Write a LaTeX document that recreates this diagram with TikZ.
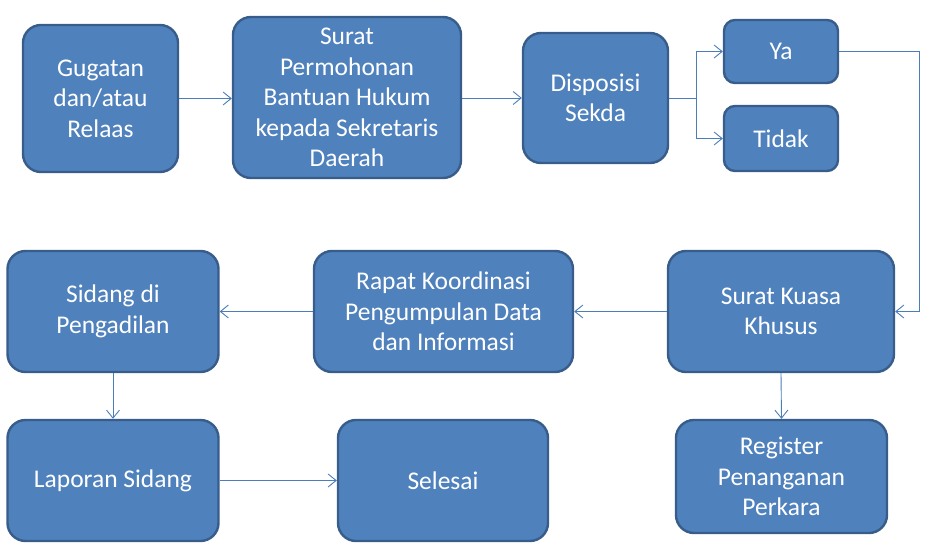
\documentclass[tikz,border=0pt]{standalone}
\usepackage{fontspec}
\setmainfont{Carlito}
\usetikzlibrary{arrows.meta}
\definecolor{boxfill}{HTML}{4F81BD}
\definecolor{boxline}{HTML}{385D8A}
\definecolor{arrowcol}{HTML}{4A7EBB}
\begin{document}
\begin{tikzpicture}[x=1pt,y=-1pt,
  stepbox/.style={rectangle, rounded corners=18pt, fill=boxfill, draw=boxline, line width=2.4pt,
    text=white, align=center, inner sep=0pt, font=\fontsize{25.5}{30.5}\selectfont},
  smallbox/.style={stepbox, rounded corners=11pt},
  conn/.style={draw=arrowcol, line width=0.9pt, -{Straight Barb[length=8pt,width=13pt,line width=0.9pt]}},
  plainconn/.style={draw=arrowcol, line width=0.9pt}]
\useasboundingbox (0,0) rectangle (932,557);
\node[stepbox, minimum width=155pt, minimum height=147pt] (g) at (100.5,98.5) {Gugatan\\dan/atau\\Relaas};
\node[stepbox, minimum width=228pt, minimum height=161pt] (sp) at (347,97.5) {Surat\\Permohonan\\Bantuan Hukum\\kepada Sekretaris\\Daerah};
\node[stepbox, minimum width=145pt, minimum height=130pt] (d) at (595.5,98) {Disposisi\\Sekda};
\node[smallbox, minimum width=114pt, minimum height=63pt] (ya) at (781,51.5) {Ya};
\node[smallbox, minimum width=114pt, minimum height=65pt] (t) at (781,138.5) {Tidak};
\node[stepbox, minimum width=226pt, minimum height=121pt] (sk) at (781,311.5) {Surat Kuasa\\Khusus};
\node[stepbox, minimum width=259pt, minimum height=121pt] (r) at (443.5,311.5) {Rapat Koordinasi\\Pengumpulan Data\\dan Informasi};
\node[stepbox, minimum width=211pt, minimum height=121pt] (s) at (113,311.5) {Sidang di\\Pengadilan};
\node[stepbox, minimum width=211pt, minimum height=121pt] (l) at (113,480.5) {Laporan Sidang};
\node[stepbox, minimum width=210pt, minimum height=121pt] (se) at (443,480.5) {Selesai};
\node[stepbox, minimum width=211pt, minimum height=113pt] (reg) at (781.5,476.5) {Register\\Penanganan\\Perkara};
\coordinate (br) at (696,98);
\coordinate (c2) at (919,311.5);
\draw[conn] (g.east) -- (g.east -| sp.west);
\draw[conn] (sp.east |- d.west) -- (d.west);
\draw[plainconn] (d.east) -- (br);
\draw[conn] (br) |- (ya.west);
\draw[conn] (br) |- (t.west);
\draw[conn] (ya.east) -| (c2) -- (sk.east);
\draw[conn] (sk.west) -- (r.east);
\draw[conn] (r.west) -- (s.east);
\draw[conn] (s.south) -- (l.north);
\draw[conn] (l.east) -- (se.west);
\draw[conn] (sk.south) -- (reg.north);
\end{tikzpicture}
\end{document}
